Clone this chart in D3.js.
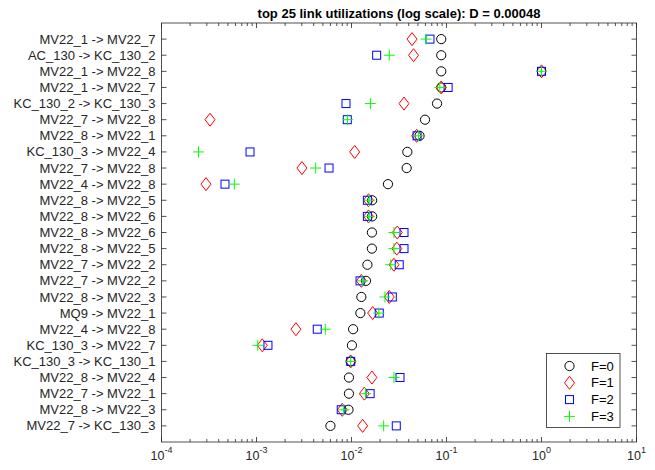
<!DOCTYPE html>
<html>
<head>
<meta charset="utf-8">
<script src="https://cdn.jsdelivr.net/npm/d3@7"></script>
<style>
  body { margin: 0; background: #fff; }
  svg { font-family: "Liberation Sans", Arial, sans-serif; }
</style>
</head>
<body>
<div id="chart"></div>
<script>
// link names, top to bottom
const links = [
  'MV22_1 -> MV22_7', 'AC_130 -> KC_130_2', 'MV22_1 -> MV22_8', 'MV22_1 -> MV22_7',
  'KC_130_2 -> KC_130_3', 'MV22_7 -> MV22_8', 'MV22_8 -> MV22_1', 'KC_130_3 -> MV22_4',
  'MV22_7 -> MV22_8', 'MV22_4 -> MV22_8', 'MV22_8 -> MV22_5', 'MV22_8 -> MV22_6',
  'MV22_8 -> MV22_6', 'MV22_8 -> MV22_5', 'MV22_7 -> MV22_2', 'MV22_7 -> MV22_2',
  'MV22_8 -> MV22_3', 'MQ9 -> MV22_1', 'MV22_4 -> MV22_8', 'KC_130_3 -> MV22_7',
  'KC_130_3 -> KC_130_1', 'MV22_8 -> MV22_4', 'MV22_7 -> MV22_1', 'MV22_8 -> MV22_3',
  'MV22_7 -> KC_130_3'
];

// utilization for each failure count F
const f0 = [0.088, 0.088, 0.088, 0.088, 0.0795, 0.0594, 0.052, 0.0387, 0.0381, 0.0242,
  0.0165, 0.0165, 0.0164, 0.0164, 0.0147, 0.0142, 0.0127, 0.0124, 0.0104, 0.0101,
  0.0098, 0.0094, 0.0094, 0.0093, 0.0060];
const f1 = [0.0434, 0.045, 1.0, 0.088, 0.0357, 0.000324, 0.0485, 0.0108, 0.00301, 0.000294,
  0.0151, 0.0151, 0.0303, 0.030, 0.028, 0.0127, 0.025, 0.0167, 0.0026, 0.00115,
  0.0098, 0.0164, 0.01365, 0.0080, 0.0131];
const f2 = [0.067, 0.0184, 1.0, 0.104, 0.00875, 0.00903, 0.049, 0.000855, 0.0058, 0.000466,
  0.0147, 0.0147, 0.0357, 0.0357, 0.0318, 0.0123, 0.0269, 0.0196, 0.00436, 0.00132,
  0.0098, 0.0324, 0.0157, 0.0078, 0.0296];
const f3 = [0.061, 0.025, 1.0, 0.085, 0.0158, 0.0091, 0.0506, 0.000245, 0.0042, 0.000584,
  0.0154, 0.0154, 0.028, 0.028, 0.0259, 0.0131, 0.0225, 0.0194, 0.0053, 0.00103,
  0.0098, 0.028, 0.0141, 0.0083, 0.0218];

const xDecades = [-4, -3, -2, -1, 0, 1];
const legendLabels = ['F=0', 'F=1', 'F=2', 'F=3'];

const W = 655, H = 470;
const m = {left: 161.5, right: 636.5, top: 23, bottom: 442};
const axisColor = '#262626';

const svg = d3.select('#chart').append('svg')
  .attr('width', W).attr('height', H);

const x = d3.scaleLog().domain([1e-4, 10]).range([m.left, m.right]);
const y = d3.scaleLinear().domain([0, links.length + 1]).range([m.top, m.bottom]);

// marker shapes
const shapes = [
  g => g.append('circle').attr('r', 4.6).attr('fill', 'none').attr('stroke', '#000'),
  g => g.append('path').attr('d', 'M0,-6.5L5,0L0,6.5L-5,0Z').attr('fill', 'none').attr('stroke', '#ff0000'),
  g => g.append('rect').attr('x', -4).attr('y', -4).attr('width', 8).attr('height', 8)
        .attr('fill', 'none').attr('stroke', '#0000ff'),
  g => g.append('path').attr('d', 'M-5.5,0H5.5M0,-5.5V5.5').attr('stroke', '#00ff00').attr('fill', 'none')
];
const series = [f0, f1, f2, f3];

// box
svg.append('rect')
  .attr('x', m.left).attr('y', m.top)
  .attr('width', m.right - m.left).attr('height', m.bottom - m.top)
  .attr('fill', '#fff').attr('stroke', axisColor).attr('stroke-width', 0.8);

// x ticks (inward, bottom and top)
const xt = x.ticks();
const isMajor = v => Math.abs(Math.log10(v) - Math.round(Math.log10(v))) < 1e-9;
const tickG = svg.append('g').attr('stroke', axisColor).attr('stroke-width', 0.8);
xt.forEach(v => {
  const len = isMajor(v) ? 5 : 3;
  const px = x(v);
  tickG.append('line').attr('x1', px).attr('x2', px).attr('y1', m.bottom).attr('y2', m.bottom - len);
  tickG.append('line').attr('x1', px).attr('x2', px).attr('y1', m.top).attr('y2', m.top + len);
});

// y ticks (inward, left and right)
links.forEach((d, i) => {
  const py = y(i + 1);
  tickG.append('line').attr('x1', m.left).attr('x2', m.left + 5).attr('y1', py).attr('y2', py);
  tickG.append('line').attr('x1', m.right).attr('x2', m.right - 5).attr('y1', py).attr('y2', py);
});

// x tick labels 10^n
xDecades.forEach(e => {
  const t = svg.append('text')
    .attr('x', x(Math.pow(10, e))).attr('y', 460)
    .attr('text-anchor', 'middle')
    .attr('font-size', 12.5).attr('fill', axisColor);
  t.append('tspan').text('10');
  t.append('tspan').attr('dy', -7).attr('font-size', 9).text(e);
});

// y tick labels
svg.append('g').selectAll('text')
  .data(links).enter().append('text')
  .attr('x', m.left - 6)
  .attr('y', (d, i) => y(i + 1))
  .attr('dy', '0.35em')
  .attr('text-anchor', 'end')
  .attr('font-size', 13)
  .attr('fill', axisColor)
  .text(d => d);

// title
svg.append('text')
  .attr('x', (m.left + m.right) / 2).attr('y', 18)
  .attr('text-anchor', 'middle')
  .attr('font-size', 13).attr('font-weight', 'bold')
  .attr('fill', '#000')
  .text('top 25 link utilizations (log scale): D = 0.00048');

// points
series.forEach((s, k) => {
  const g = svg.append('g').attr('stroke-width', 1);
  s.forEach((v, i) => {
    const p = g.append('g').attr('transform', `translate(${x(v)},${y(i + 1)})`);
    shapes[k](p);
  });
});

// legend
const lg = svg.append('g');
lg.append('rect')
  .attr('x', 546.5).attr('y', 353.5).attr('width', 73.5).attr('height', 74)
  .attr('fill', '#fff').attr('stroke', axisColor).attr('stroke-width', 0.8);
legendLabels.forEach((l, k) => {
  const ly = 366 + k * 16.8;
  const p = lg.append('g').attr('transform', `translate(569.5,${ly})`).attr('stroke-width', 1);
  shapes[k](p);
  lg.append('text').attr('x', 591).attr('y', ly).attr('dy', '0.35em')
    .attr('font-size', 13).attr('fill', '#000').text(l);
});
</script>
</body>
</html>
